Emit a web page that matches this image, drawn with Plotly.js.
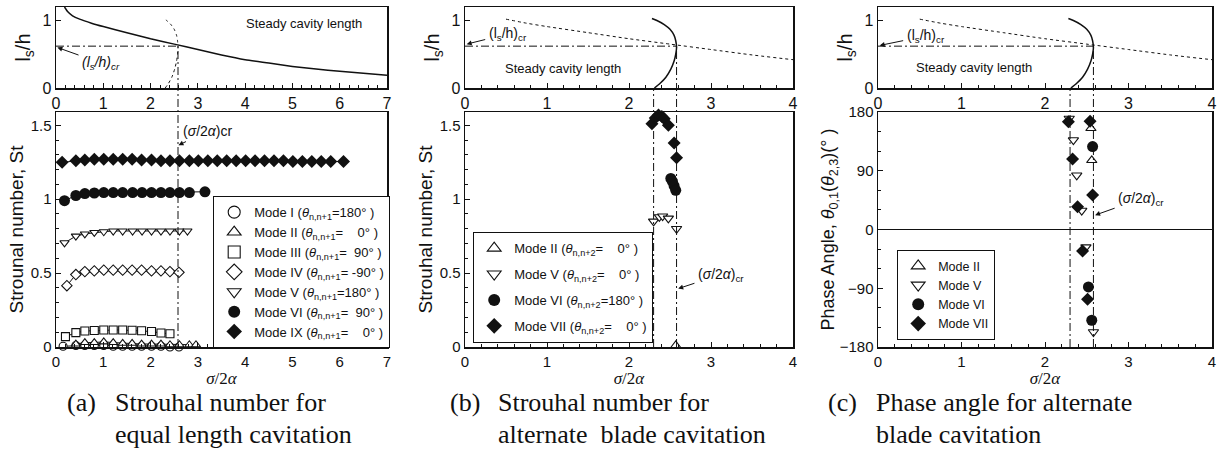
<!DOCTYPE html>
<html>
<head>
<meta charset="utf-8">
<script src="https://cdn.plot.ly/plotly-3.0.1.min.js"></script>
<style>
  html, body { margin: 0; padding: 0; background: #fff; }
  #chart { width: 1221px; height: 457px; }
</style>
</head>
<body>
<div id="chart"></div>
<script>
// ---------- steady cavity length vs sigma/2alpha ----------
const steadyX = [0.18, 0.25, 0.35, 0.5, 0.75, 1.0, 1.5, 2.0, 2.5, 3.0, 3.5, 4.0, 4.5, 5.0, 5.5, 6.0, 6.5, 7.0];
const steadyY = [1.2, 1.13, 1.07, 1.02, 0.96, 0.91, 0.82, 0.73, 0.65, 0.57, 0.49, 0.42, 0.37, 0.32, 0.28, 0.25, 0.22, 0.19];

// alternate-blade cavity length branch
const altX = [2.31, 2.38, 2.45, 2.51, 2.55, 2.57, 2.58, 2.57, 2.55, 2.5, 2.43, 2.34, 2.28];
const altY = [0.0, 0.07, 0.16, 0.28, 0.4, 0.5, 0.6, 0.7, 0.78, 0.87, 0.94, 1.0, 1.03];

// critical values
const sigmaCr = 2.58;
const sigmaLow = 2.3;
const lsCr = 0.62;

// ---------- (a) equal length cavitation, Strouhal number ----------
const aModeIX_x = [0.13, 0.42, 0.61, 0.81, 1.01, 1.21, 1.41, 1.61, 1.81, 2.02, 2.22, 2.41, 2.61, 2.82, 3.01, 3.21, 3.41, 3.61, 3.81, 4.01, 4.21, 4.41, 4.61, 4.81, 5.01, 5.21, 5.41, 5.61, 5.81, 6.08];
const aModeIX_y = [1.25, 1.26, 1.265, 1.27, 1.27, 1.27, 1.27, 1.27, 1.265, 1.265, 1.26, 1.26, 1.26, 1.26, 1.26, 1.26, 1.26, 1.26, 1.26, 1.26, 1.26, 1.26, 1.26, 1.26, 1.255, 1.255, 1.255, 1.255, 1.255, 1.255];
const aModeVI_x = [0.18, 0.42, 0.61, 0.81, 1.01, 1.21, 1.41, 1.62, 1.82, 2.02, 2.22, 2.41, 2.61, 2.82, 3.15];
const aModeVI_y = [0.99, 1.025, 1.038, 1.042, 1.045, 1.045, 1.045, 1.045, 1.045, 1.045, 1.045, 1.045, 1.045, 1.045, 1.05];
const aModeV_x = [0.18, 0.42, 0.61, 0.81, 1.01, 1.21, 1.41, 1.62, 1.82, 2.02, 2.22, 2.41, 2.61, 2.78];
const aModeV_y = [0.705, 0.75, 0.765, 0.775, 0.78, 0.785, 0.785, 0.785, 0.785, 0.785, 0.785, 0.785, 0.785, 0.785];
const aModeIV_x = [0.23, 0.42, 0.61, 0.81, 1.01, 1.21, 1.41, 1.61, 1.81, 2.02, 2.22, 2.41, 2.6];
const aModeIV_y = [0.415, 0.49, 0.51, 0.515, 0.52, 0.52, 0.52, 0.52, 0.52, 0.515, 0.515, 0.51, 0.505];
const aModeIII_x = [0.2, 0.42, 0.61, 0.81, 1.01, 1.21, 1.41, 1.61, 1.81, 2.02, 2.22, 2.41];
const aModeIII_y = [0.07, 0.097, 0.108, 0.112, 0.115, 0.115, 0.115, 0.113, 0.11, 0.105, 0.095, 0.09];
const aModeII_x = [0.42, 0.61, 0.81, 1.01, 1.21, 1.41, 1.61, 1.81, 2.02, 2.22, 2.41, 2.61, 2.82, 2.96];
const aModeII_y = [0.02, 0.03, 0.03, 0.035, 0.03, 0.025, 0.025, 0.02, 0.02, 0.02, 0.015, 0.015, 0.015, 0.015];
const aModeI_x = [0.15, 0.42, 0.61, 0.81, 1.01, 1.21, 1.41, 1.61, 1.81, 2.02, 2.22, 2.41, 2.6];
const aModeI_y = [0.005, 0.01, 0.01, 0.01, 0.01, 0.005, 0.005, 0.005, 0.005, 0.005, 0.005, 0.0, 0.0];

// ---------- (b) alternate blade cavitation, Strouhal number ----------
const bModeII_x = [2.57];
const bModeII_y = [0.01];
const bModeV_x = [2.30, 2.37, 2.41, 2.48, 2.58];
const bModeV_y = [0.85, 0.88, 0.885, 0.87, 0.80];
const bModeVI_x = [2.51, 2.53, 2.55, 2.57];
const bModeVI_y = [1.14, 1.12, 1.09, 1.06];
const bModeVII_x = [2.28, 2.32, 2.36, 2.40, 2.43, 2.48, 2.55, 2.58];
const bModeVII_y = [1.51, 1.55, 1.57, 1.56, 1.545, 1.50, 1.38, 1.28];

// ---------- (c) alternate blade cavitation, phase angle ----------
const cModeII_x = [2.55, 2.56];
const cModeII_y = [155, 106];
const cModeV_x = [2.29, 2.34, 2.38, 2.44, 2.49, 2.58];
const cModeV_y = [170, 137, 83, 29, -27, -157];
const cModeVI_x = [2.57, 2.52, 2.56];
const cModeVI_y = [127, -88, -139];
const cModeVII_x = [2.28, 2.33, 2.39, 2.45, 2.51, 2.54, 2.57];
const cModeVII_y = [165, 108, 35, -33, -107, 166, 53];

// legend labels
const aLegend = [
  'Mode I (<i>θ</i><sub>n,n+1</sub>=180° )',
  'Mode II (<i>θ</i><sub>n,n+1</sub>=\u00a0\u00a0\u00a0 0° )',
  'Mode III (<i>θ</i><sub>n,n+1</sub>=\u00a0 90° )',
  'Mode IV (<i>θ</i><sub>n,n+1</sub>= -90° )',
  'Mode V (<i>θ</i><sub>n,n+1</sub>=180° )',
  'Mode VI (<i>θ</i><sub>n,n+1</sub>=\u00a0 90° )',
  'Mode IX (<i>θ</i><sub>n,n+1</sub>=\u00a0\u00a0\u00a0 0° )'
];
const bLegend = [
  'Mode II (<i>θ</i><sub>n,n+2</sub>=\u00a0\u00a0\u00a0 0° )',
  'Mode V (<i>θ</i><sub>n,n+2</sub>=\u00a0\u00a0\u00a0 0° )',
  'Mode VI (<i>θ</i><sub>n,n+2</sub>=180° )',
  'Mode VII (<i>θ</i><sub>n,n+2</sub>=\u00a0\u00a0\u00a0 0° )'
];
const cLegend = ['Mode II', 'Mode V', 'Mode VI', 'Mode VII'];

// ---------- page geometry ----------
const W = 1221, H = 457;
const px = v => v / W;
const py = v => 1 - v / H;
const domAx = [px(56), px(387)];
const domBx = [px(465), px(793)];
const domCx = [px(878), px(1212)];
const domTop = [py(88), py(7)];
const domBot = [py(347), py(112)];
const rTop = [0, 1.2];
const rSt = [0, 1.59];
const rPh = [-180, 180];
const yPaper = (dom, r, v) => dom[0] + (v - r[0]) / (r[1] - r[0]) * (dom[1] - dom[0]);

const INK = '#111';
const SANS = 'Liberation Sans, Arial, Helvetica, sans-serif';
const SERIF = 'Liberation Serif, Times New Roman, serif';

function axis(extra) {
  return Object.assign({
    showline: true, mirror: true, linecolor: INK, linewidth: 1.5,
    ticks: 'inside', ticklen: 5, tickwidth: 1, tickcolor: INK,
    showgrid: false, zeroline: false, automargin: false, fixedrange: true,
    tickfont: { family: SANS, size: 15, color: INK }
  }, extra);
}
const minorX = { ticks: 'inside', ticklen: 3, tickwidth: 1, tickcolor: INK, dtick: 0.2, showgrid: false };
function legendBox(x, y, size, gap) {
  return { x: px(x), y: py(y), xanchor: 'left', yanchor: 'top', bgcolor: '#fff', bordercolor: INK, borderwidth: 1.2,
    font: { family: SANS, size: size, color: INK }, itemwidth: 30, traceorder: 'grouped', tracegroupgap: gap };
}

const layout = {
  width: W, height: H,
  margin: { l: 0, r: 0, t: 0, b: 0 },
  paper_bgcolor: '#fff', plot_bgcolor: '#fff',
  font: { family: SANS, color: INK },
  // (a)
  xaxis: axis({ domain: domAx, range: [0, 7], dtick: 1, anchor: 'y', minor: minorX, tickfont: { family: SANS, size: 16, color: INK } }),
  yaxis: axis({ domain: domTop, range: rTop, tickvals: [0, 1], anchor: 'x', tickfont: { family: SANS, size: 16, color: INK },
    title: { text: 'l<sub>s</sub>/h', font: { family: SANS, size: 20, color: INK }, standoff: 6 } }),
  xaxis2: axis({ domain: domAx, range: [0, 7], dtick: 1, anchor: 'y2', minor: minorX,
    title: { text: '<i>σ</i>/2<i>α</i>', font: { family: SERIF, size: 17, color: INK }, standoff: 3 } }),
  yaxis2: axis({ domain: domBot, range: rSt, tickvals: [0, 0.5, 1, 1.5], ticktext: ['0', '0.5', '1', '1.5'], anchor: 'x2',
    minor: { ticks: 'inside', ticklen: 3, tickcolor: INK, dtick: 0.1 },
    title: { text: 'Strounal number, St', font: { family: SANS, size: 19, color: INK }, standoff: 2 } }),
  // (b)
  xaxis3: axis({ domain: domBx, range: [0, 4], dtick: 1, anchor: 'y3', minor: minorX, tickfont: { family: SANS, size: 16, color: INK } }),
  yaxis3: axis({ domain: domTop, range: rTop, tickvals: [0, 1], anchor: 'x3', tickfont: { family: SANS, size: 16, color: INK },
    title: { text: 'l<sub>s</sub>/h', font: { family: SANS, size: 20, color: INK }, standoff: 6 } }),
  xaxis4: axis({ domain: domBx, range: [0, 4], dtick: 1, anchor: 'y4', minor: minorX,
    title: { text: '<i>σ</i>/2<i>α</i>', font: { family: SERIF, size: 17, color: INK }, standoff: 3 } }),
  yaxis4: axis({ domain: domBot, range: rSt, tickvals: [0, 0.5, 1, 1.5], ticktext: ['0', '0.5', '1', '1.5'], anchor: 'x4',
    minor: { ticks: 'inside', ticklen: 3, tickcolor: INK, dtick: 0.1 },
    title: { text: 'Strouhal number, St', font: { family: SANS, size: 19, color: INK }, standoff: 2 } }),
  // (c)
  xaxis5: axis({ domain: domCx, range: [0, 4], dtick: 1, anchor: 'y5', minor: minorX, tickfont: { family: SANS, size: 16, color: INK } }),
  yaxis5: axis({ domain: domTop, range: rTop, tickvals: [0, 1], anchor: 'x5', tickfont: { family: SANS, size: 16, color: INK },
    title: { text: 'l<sub>s</sub>/h', font: { family: SANS, size: 20, color: INK }, standoff: 6 } }),
  xaxis6: axis({ domain: domCx, range: [0, 4], dtick: 1, anchor: 'y6', minor: minorX,
    title: { text: '<i>σ</i>/2<i>α</i>', font: { family: SERIF, size: 17, color: INK }, standoff: 3 } }),
  yaxis6: axis({ domain: domBot, range: rPh, tickvals: [-180, -90, 0, 90, 180], anchor: 'x6',
    zeroline: true, zerolinecolor: INK, zerolinewidth: 1,
    minor: { ticks: 'inside', ticklen: 3, tickcolor: INK, dtick: 30 },
    title: { text: 'Phase Angle, <i>θ</i><sub>0,1</sub>(<i>θ</i><sub>2,3</sub>)(° )', font: { family: SANS, size: 18, color: INK }, standoff: 0 } }),
  legend: legendBox(213, 196, 13, 0),
  legend2: legendBox(473, 232, 13, 6),
  legend3: legendBox(897, 250, 12.5, 0),
  showlegend: true
};

// dash-dot reference lines marking the critical cavitation number
const DD = '8px,3px,2px,3px';
function hLine(xa, ya, x1, y) {
  return { type: 'line', xref: xa, yref: ya, x0: 0, x1: x1, y0: y, y1: y, line: { color: INK, width: 1, dash: DD } };
}
function vLine(xa, x, y0, y1) {
  return { type: 'line', xref: xa, yref: 'paper', x0: x, x1: x, y0: y0, y1: y1, line: { color: INK, width: 1, dash: DD } };
}
const topCr = yPaper(domTop, rTop, lsCr);
layout.shapes = [
  hLine('x', 'y', sigmaCr, lsCr),
  vLine('x2', sigmaCr, domBot[0], topCr),
  hLine('x3', 'y3', sigmaCr, lsCr),
  vLine('x4', sigmaCr, domBot[0], topCr),
  vLine('x4', sigmaLow, domBot[0], domTop[0]),
  hLine('x5', 'y5', sigmaCr, lsCr),
  vLine('x6', sigmaCr, domBot[0], topCr),
  vLine('x6', sigmaLow, domBot[0], domTop[0])
];

// ---------- annotations ----------
function arrowNote(xa, ya, hx, hy, tx, ty, text, italic) {
  return { xref: xa, yref: ya, axref: xa, ayref: ya, x: hx, y: hy, ax: tx, ay: ty,
    text: italic ? '<i>' + text + '</i>' : text, showarrow: true, arrowhead: 2, arrowsize: 1, arrowwidth: 1,
    arrowcolor: INK, standoff: 0, startstandoff: 2, font: { family: SANS, size: 14, color: INK } };
}
function plainNote(xa, ya, x, y, text, size) {
  return { xref: xa, yref: ya, x: x, y: y, text: text, showarrow: false, font: { family: SANS, size: size || 13, color: INK } };
}
function caption(x, y, text) {
  return { xref: 'paper', yref: 'paper', x: px(x), y: py(y), xanchor: 'left', yanchor: 'middle', text: text, showarrow: false,
    font: { family: SERIF, size: 26, color: INK } };
}
const lsLabel = '(l<sub>s</sub>/h)<sub>cr</sub>';
const sigLabelA = '(<i>σ</i>/2<i>α</i>)cr';
const sigLabel = '(<i>σ</i>/2<i>α</i>)<sub>cr</sub>';
layout.annotations = [
  arrowNote('x', 'y', 0.03, 0.6, 0.95, 0.37, lsLabel, true),
  plainNote('x', 'y', 5.25, 0.96, 'Steady cavity length'),
  arrowNote('x2', 'y2', sigmaCr + 0.01, 1.365, 3.2, 1.46, sigLabelA, false),
  arrowNote('x3', 'y3', 0.02, 0.65, 0.52, 0.8, lsLabel, false),
  plainNote('x3', 'y3', 1.2, 0.29, 'Steady cavity length'),
  arrowNote('x4', 'y4', sigmaCr + 0.02, 0.395, 3.12, 0.49, sigLabel, false),
  arrowNote('x5', 'y5', 0.02, 0.63, 0.57, 0.77, lsLabel, false),
  plainNote('x5', 'y5', 1.15, 0.31, 'Steady cavity length'),
  arrowNote('x6', 'y6', sigmaCr + 0.02, 22, 3.15, 47, sigLabel, false),
  caption(65, 402, '(a)'), caption(113, 402, 'Strouhal number for'), caption(113, 434, 'equal length cavitation'),
  caption(448, 402, '(b)'), caption(496, 402, 'Strouhal number for'), caption(496, 434, 'alternate  blade cavitation'),
  caption(826, 402, '(c)'), caption(874, 402, 'Phase angle for alternate'), caption(874, 434, 'blade cavitation')
];

// ---------- traces ----------
const traces = [];
function curve(x, y, xa, ya, dash, width) {
  traces.push({ type: 'scatter', mode: 'lines', x: x, y: y, xaxis: xa, yaxis: ya, showlegend: false, hoverinfo: 'skip',
    line: { color: INK, width: width, dash: dash, shape: 'spline', smoothing: 0.6 } });
}
function series(x, y, xa, ya, sym, filled, size, withLine) {
  traces.push({ type: 'scatter', mode: withLine ? 'lines+markers' : 'markers', x: x, y: y, xaxis: xa, yaxis: ya,
    showlegend: false, hoverinfo: 'skip', cliponaxis: false,
    line: { color: INK, width: 1 },
    marker: { symbol: sym, size: size, color: filled ? INK : '#fff', line: { color: INK, width: filled ? 0 : 1.1 } } });
}
function key(name, legend, group, xa, ya, sym, filled, size) {
  traces.push({ type: 'scatter', mode: 'markers', x: [null], y: [null], xaxis: xa, yaxis: ya, name: name, legend: legend,
    legendgroup: group, showlegend: true, hoverinfo: 'skip',
    marker: { symbol: sym, size: size, color: filled ? INK : '#fff', line: { color: INK, width: filled ? 0 : 1.1 } } });
}

// (a) top
curve(steadyX, steadyY, 'x', 'y', 'solid', 1.5);
curve(altX, altY, 'x', 'y', 'dot', 1);
// (b), (c) top
const dotX = steadyX.filter(v => v >= 0.5);
const dotY = steadyY.filter((v, i) => steadyX[i] >= 0.5);
curve(dotX, dotY, 'x3', 'y3', 'dot', 1);
curve(altX, altY, 'x3', 'y3', 'solid', 1.5);
curve(dotX, dotY, 'x5', 'y5', 'dot', 1);
curve(altX, altY, 'x5', 'y5', 'solid', 1.5);

// (a) bottom
series(aModeI_x, aModeI_y, 'x2', 'y2', 'circle', false, 8, true);
series(aModeII_x, aModeII_y, 'x2', 'y2', 'triangle-up', false, 8, true);
series(aModeIII_x, aModeIII_y, 'x2', 'y2', 'square', false, 8, true);
series(aModeIV_x, aModeIV_y, 'x2', 'y2', 'diamond', false, 8, true);
series(aModeV_x, aModeV_y, 'x2', 'y2', 'triangle-down', false, 8, true);
series(aModeVI_x, aModeVI_y, 'x2', 'y2', 'circle', true, 11, true);
series(aModeIX_x, aModeIX_y, 'x2', 'y2', 'diamond', true, 10, true);
const aSyms = [['circle', false], ['triangle-up', false], ['square', false], ['diamond', false], ['triangle-down', false], ['circle', true], ['diamond', true]];
aLegend.forEach((t, i) => key(t, 'legend', 'a' + i, 'x2', 'y2', aSyms[i][0], aSyms[i][1], 12));

// (b) bottom
series(bModeII_x, bModeII_y, 'x4', 'y4', 'triangle-up', false, 9, false);
series(bModeV_x, bModeV_y, 'x4', 'y4', 'triangle-down', false, 9, false);
series(bModeVI_x, bModeVI_y, 'x4', 'y4', 'circle', true, 11, false);
series(bModeVII_x, bModeVII_y, 'x4', 'y4', 'diamond', true, 10, false);
const bcSyms = [['triangle-up', false], ['triangle-down', false], ['circle', true], ['diamond', true]];
bLegend.forEach((t, i) => key(t, 'legend2', 'b' + i, 'x4', 'y4', bcSyms[i][0], bcSyms[i][1], 12));

// (c) bottom
series(cModeII_x, cModeII_y, 'x6', 'y6', 'triangle-up', false, 9, false);
series(cModeV_x, cModeV_y, 'x6', 'y6', 'triangle-down', false, 9, false);
series(cModeVI_x, cModeVI_y, 'x6', 'y6', 'circle', true, 11, false);
series(cModeVII_x, cModeVII_y, 'x6', 'y6', 'diamond', true, 10, false);
cLegend.forEach((t, i) => key(t, 'legend3', 'c' + i, 'x6', 'y6', bcSyms[i][0], bcSyms[i][1], 12));

Plotly.newPlot('chart', traces, layout, { staticPlot: true, displayModeBar: false });
</script>
</body>
</html>
